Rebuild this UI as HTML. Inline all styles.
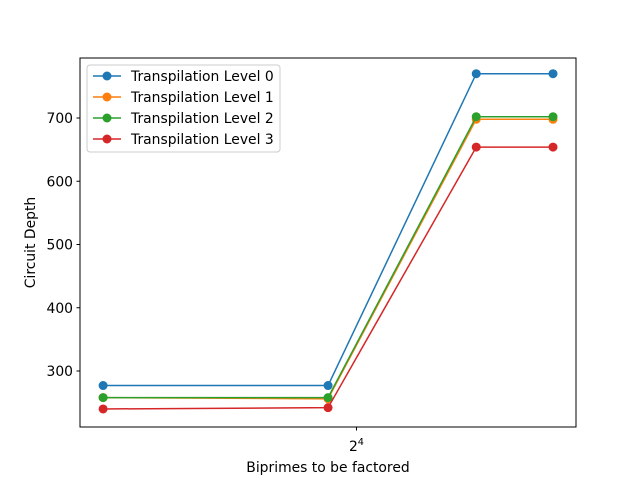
<!DOCTYPE html>
<html><head><meta charset="utf-8"><style>
body{margin:0;background:#fff;}
svg text{font-family:"DejaVu Sans","Liberation Sans",sans-serif;fill:#000;}
</style></head><body>
<svg id="chart" width="640" height="480" viewBox="0 0 640 480">
<rect width="640" height="480" fill="#fff"/>
<g id="plot"></g>
</svg>
<script>
const categories = [9, 15, 21, 25];
const seriesNames = ["Transpilation Level 0","Transpilation Level 1","Transpilation Level 2","Transpilation Level 3"];
const level0 = [277, 277, 770, 770];
const level1 = [258, 256, 698, 698];
const level2 = [258, 258, 702, 702];
const level3 = [240, 242, 654, 654];
const yTicks = [300, 400, 500, 600, 700];
const colors = ["#1f77b4","#ff7f0e","#2ca02c","#d62728"];
const series = [level0, level1, level2, level3];

const FS=13.9;
const L=80, R=576, T=58, B=427;
const xmin=8.54, xmax=26.34;
function xs(v){return L+(Math.log(v)-Math.log(xmin))/(Math.log(xmax)-Math.log(xmin))*(R-L);}
function ys(v){return 371-(v-300)*(253/400);}
const NS="http://www.w3.org/2000/svg";
const g=document.getElementById('plot');
function mk(t,a,p){const e=document.createElementNS(NS,t);for(const k in a)e.setAttribute(k,a[k]);(p||g).appendChild(e);return e;}

const frame=mk('rect',{x:L,y:T,width:R-L,height:B-T,fill:'none',stroke:'#000','stroke-width':1});



yTicks.forEach(v=>{
  const y=ys(v);
  const t=mk('line',{x1:L-3.5,x2:L,y1:y,y2:y,stroke:'#000'});
  
  
  const tx=mk('text',{x:L-7,y:y+5,'text-anchor':'end','font-size':FS});
  tx.textContent=v;
  
  
});
const x16=xs(16);
const xt=mk('line',{x1:x16,x2:x16,y1:B,y2:B+3.5,stroke:'#000'});


const xl=mk('text',{x:x16,y:B+24,'text-anchor':'middle','font-size':FS});
xl.innerHTML='2<tspan dy="-6" font-size="9.7">4</tspan>';



const xa=mk('text',{x:(L+R)/2,y:472,'text-anchor':'middle','font-size':FS});
xa.textContent='Biprimes to be factored';


const ya=mk('text',{x:35,y:(T+B)/2,'text-anchor':'middle','font-size':FS,transform:'rotate(-90 35 '+((T+B)/2)+')'});
ya.textContent='Circuit Depth';



series.forEach((s,i)=>{
  const pts=s.map((v,j)=>xs(categories[j])+','+ys(v)).join(' ');
  const pl=mk('polyline',{points:pts,fill:'none',stroke:colors[i],'stroke-width':1.5});
  
  
  s.forEach((v,j)=>{
    const c=mk('circle',{cx:xs(categories[j]),cy:ys(v),r:4.5,fill:colors[i]});
    
    
  });
});

const lg=mk('g',{});


mk('rect',{x:87,y:65,width:193,height:87,rx:3,fill:'#fff','fill-opacity':0.8,stroke:'#ccc'},lg);
seriesNames.forEach((n,i)=>{
  const y=76+i*21;
  const ln=mk('line',{x1:93,x2:121,y1:y,y2:y,stroke:colors[i],'stroke-width':1.5},lg);
  
  
  const c=mk('circle',{cx:107,cy:y,r:4.5,fill:colors[i]},lg);
  
  
  const t=mk('text',{x:131,y:y+5,'font-size':FS},lg);
  t.textContent=n;
  
  
});
</script>
</body></html>
